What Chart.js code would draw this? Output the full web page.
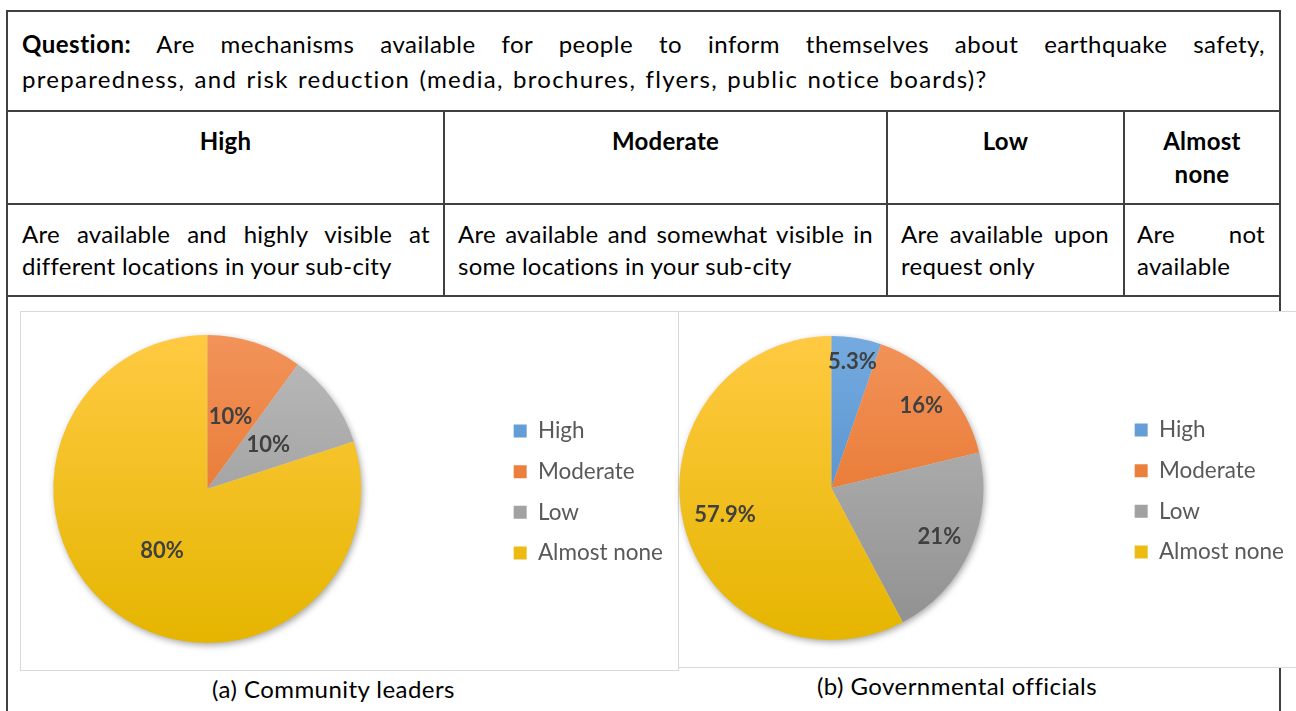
<!DOCTYPE html>
<html>
<head>
<meta charset="utf-8">
<script src="https://cdn.jsdelivr.net/npm/chart.js@4.4.1/dist/chart.umd.min.js"></script>
<style>
  html, body { margin: 0; padding: 0; background: #fff; }
  body { position: relative; width: 1296px; height: 711px; overflow: hidden;
         font-family: Lato, "Open Sans", sans-serif; color: #000; }
  .rule { position: absolute; background: #404040; }
  .t { position: absolute; font-size: 24px; line-height: 24px; white-space: nowrap; letter-spacing: 0.27px; }
  .q { letter-spacing: 1.3px; word-spacing: 1.8px; }
  .q1 { letter-spacing: 0.5px; }
  .j { white-space: normal; text-align: justify; text-align-last: justify; }
  .c { text-align: center; }
  .b { font-weight: bold; }
  .cap { letter-spacing: 0.45px; }
  .panel { position: absolute; background: #fff; border: 1px solid #d9d9d9; box-sizing: border-box; }
  canvas { position: absolute; }
</style>
</head>
<body>
  <!-- table frame -->
  <div class="rule" style="left:6px;top:10px;width:1275px;height:2px"></div>
  <div class="rule" style="left:6px;top:10px;width:2px;height:701px"></div>
  <div class="rule" style="left:1279px;top:10px;width:2px;height:701px"></div>
  <div class="rule" style="left:6px;top:110px;width:1275px;height:2px"></div>
  <div class="rule" style="left:6px;top:203px;width:1275px;height:2px"></div>
  <div class="rule" style="left:6px;top:295px;width:1275px;height:2px"></div>
  <div class="rule" style="left:443px;top:110px;width:2px;height:186px"></div>
  <div class="rule" style="left:886px;top:110px;width:2px;height:186px"></div>
  <div class="rule" style="left:1123px;top:110px;width:2px;height:186px"></div>

  <!-- question -->
  <div class="t q1 j" style="left:22px;top:31.7px;width:1243px"><b>Question:</b> Are mechanisms available for people to inform themselves about earthquake safety,</div>
  <div class="t q" style="left:22px;top:66.7px">preparedness, and risk reduction (media, brochures, flyers, public notice boards)?</div>

  <!-- rating levels -->
  <div class="t c b" style="left:8px;top:128.7px;width:435px">High</div>
  <div class="t c b" style="left:445px;top:128.7px;width:441px">Moderate</div>
  <div class="t c b" style="left:888px;top:128.7px;width:235px">Low</div>
  <div class="t c b" style="left:1125px;top:128.7px;width:154px">Almost</div>
  <div class="t c b" style="left:1125px;top:161.7px;width:154px">none</div>

  <!-- level descriptions -->
  <div class="t j" style="left:22px;top:221.7px;width:408px">Are available and highly visible at</div>
  <div class="t" style="left:22px;top:253.7px">different locations in your sub-city</div>
  <div class="t j" style="left:458px;top:221.7px;width:415px">Are available and somewhat visible in</div>
  <div class="t" style="left:458px;top:253.7px">some locations in your sub-city</div>
  <div class="t j" style="left:901px;top:221.7px;width:208px">Are available upon</div>
  <div class="t" style="left:901px;top:253.7px">request only</div>
  <div class="t j" style="left:1137px;top:221.7px;width:128px">Are not</div>
  <div class="t" style="left:1137px;top:253.7px">available</div>

  <!-- chart panels -->
  <div class="panel" style="left:20px;top:311px;width:659px;height:360px"></div>
  <div class="panel" style="left:678px;top:311px;width:640px;height:357px"></div>
  <canvas id="pieA"></canvas>
  <canvas id="pieB"></canvas>

  <div class="t c cap" id="capA" style="left:133.5px;top:676.7px;width:400px"></div>
  <div class="t c cap" id="capB" style="left:757px;top:673.7px;width:400px"></div>

<script>
// Response shares (%) per availability level
const categories = ['High', 'Moderate', 'Low', 'Almost none'];
const communityLeaders = [0, 10, 10, 80];
const governmentalOfficials = [5.3, 16, 21, 57.9];
const panelCaptions = ['(a) Community leaders', '(b) Governmental officials'];

// Office-style slice fills: lighter at the top, darker at the bottom
const sliceTop = ['#74AADF', '#F2935A', '#BBBBBB', '#FFCA42'];
const sliceBottom = ['#4483C3', '#E2681A', '#8F8F8F', '#E5B500'];

const legendFont = { family: 'Lato', size: 22.5 };
const legendBox = 13;
const legendGap = 18.1;
const labelFont = 'bold 22px Lato';

document.getElementById('capA').textContent = panelCaptions[0];
document.getElementById('capB').textContent = panelCaptions[1];

// soft drop shadow under the pie + percentage labels inside the slices
const pieDecor = {
  id: 'pieDecor',
  beforeDatasetsDraw(chart) {
    const arc = chart.getDatasetMeta(0).data[0];
    if (!arc) return;
    const { x, y, outerRadius } = arc.getProps(['x', 'y', 'outerRadius'], true);
    const ctx = chart.ctx;
    ctx.save();
    ctx.shadowColor = 'rgba(0,0,0,0.38)';
    ctx.shadowBlur = 7;
    ctx.shadowOffsetX = 1.5;
    ctx.shadowOffsetY = 2.5;
    ctx.beginPath();
    ctx.arc(x, y, outerRadius - 0.5, 0, Math.PI * 2);
    ctx.fillStyle = '#d8d8d8';
    ctx.fill();
    ctx.restore();
  },
  afterDatasetsDraw(chart, args, opts) {
    const ctx = chart.ctx;
    const values = chart.data.datasets[0].data;
    ctx.save();
    ctx.font = labelFont;
    ctx.fillStyle = '#404040';
    ctx.textAlign = 'center';
    ctx.textBaseline = 'middle';
    chart.getDatasetMeta(0).data.forEach((arc, i) => {
      if (!values[i]) return;
      const p = arc.getProps(['x', 'y', 'startAngle', 'endAngle', 'outerRadius'], true);
      const mid = (p.startAngle + p.endAngle) / 2;
      const d = p.outerRadius * opts.radial[i];
      ctx.fillText(values[i] + '%', p.x + Math.cos(mid) * d, p.y + Math.sin(mid) * d);
    });
    ctx.restore();
  }
};

function widestLabel() {
  const m = document.createElement('canvas').getContext('2d');
  m.font = legendFont.size + 'px ' + legendFont.family;
  return Math.max(...categories.map(t => m.measureText(t).width));
}

// place a pie so that its centre sits at (cx, cy) and the legend boxes start at boxLeft
function drawPie(id, values, cx, cy, radius, height, boxLeft, radial) {
  const itemW = legendBox + legendFont.size / 2 + widestLabel();
  const left = 2 * cx - boxLeft + legendGap;
  const width = boxLeft - left + itemW + 10;
  const cv = document.getElementById(id);
  cv.width = Math.round(width);
  cv.height = height;
  cv.style.left = left + 'px';
  cv.style.top = (cy - height / 2) + 'px';

  const fill = c => {
    const i = c.dataIndex;
    const area = c.chart.chartArea;
    if (!area || i === undefined) return sliceBottom[i || 0];
    const my = (area.top + area.bottom) / 2;
    const g = c.chart.ctx.createLinearGradient(0, my - radius, 0, my + radius);
    g.addColorStop(0, sliceTop[i]);
    g.addColorStop(1, sliceBottom[i]);
    return g;
  };

  return new Chart(cv, {
    type: 'pie',
    data: {
      labels: categories,
      datasets: [{ data: values, backgroundColor: fill, borderWidth: 0, hoverOffset: 0, radius: radius }]
    },
    options: {
      responsive: false,
      animation: false,
      devicePixelRatio: 1,
      layout: { padding: 0 },
      events: [],
      plugins: {
        legend: {
          position: 'right',
          align: 'center',
          // empty title only nudges the legend rows down a little
          title: { display: true, text: '', padding: 0, font: { size: 6, lineHeight: 1 } },
          labels: {
            boxWidth: legendBox,
            boxHeight: legendBox,
            padding: legendGap,
            color: '#595959',
            font: legendFont
          }
        },
        tooltip: { enabled: false },
        pieDecor: { radial }
      }
    },
    plugins: [pieDecor]
  });
}

drawPie('pieA', communityLeaders, 207, 489, 154, 354, 513.3, [0.5, 0.49, 0.49, 0.5]);
drawPie('pieB', governmentalOfficials, 831, 488, 152, 352, 1134.6, [0.84, 0.8, 0.78, 0.72]);
</script>
</body>
</html>
